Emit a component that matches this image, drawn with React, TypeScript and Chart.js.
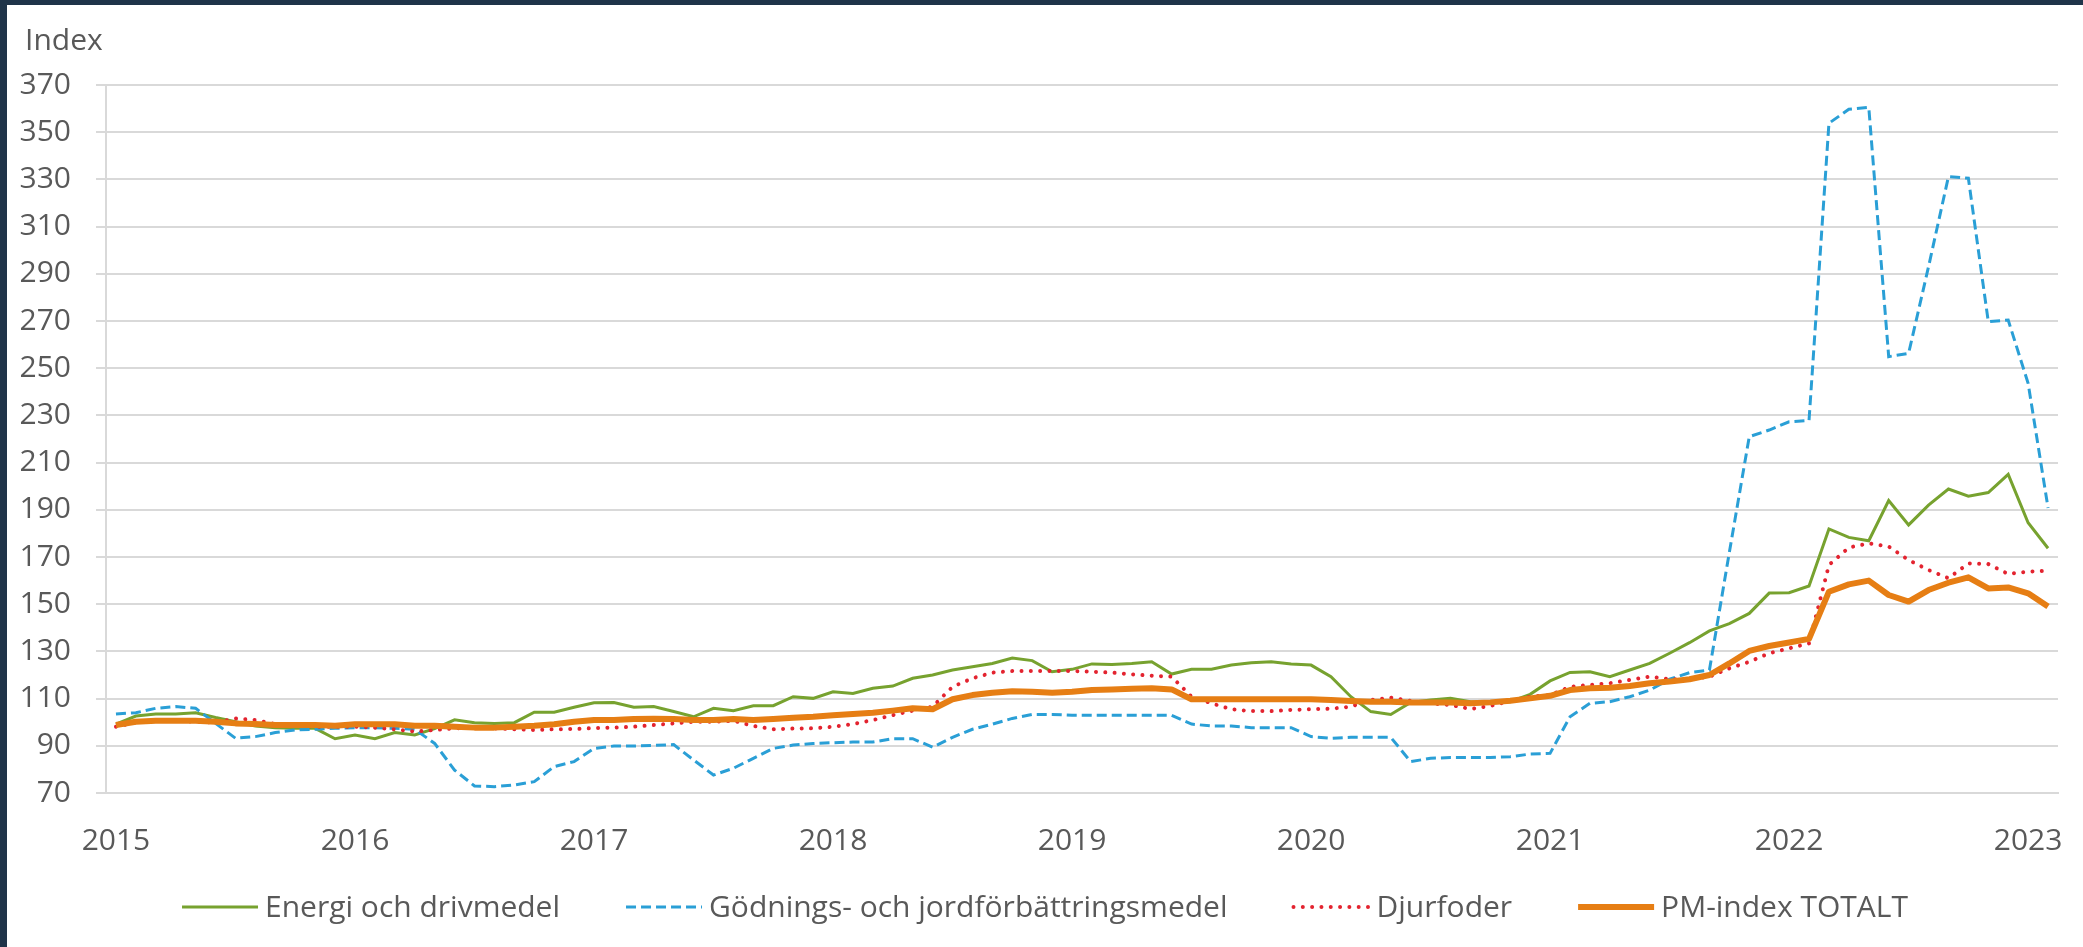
import React, { useEffect, useRef } from "react";
import { Chart, registerables } from "chart.js";

Chart.register(...registerables);

const FONT = "'Open Sans', 'Noto Sans', sans-serif";
const TEXT_COLOR = "#595959";
const GRID_COLOR = "#d9d9d9";

const yearLabels = ["2015", "2016", "2017", "2018", "2019", "2020", "2021", "2022", "2023"];
const startYear = 2015;
const monthCount = 98; // Jan 2015 – Feb 2023

const months: string[] = [];
for (let i = 0; i < monthCount; i++) {
  const y = startYear + Math.floor(i / 12);
  const m = (i % 12) + 1;
  months.push(`${y}-${String(m).padStart(2, "0")}`);
}

const energi = [
  99.2, 102.6, 103.5, 103.5, 104, 102, 100.2, 98.4, 97.7, 97.4, 97.4, 93,
  94.6, 93, 95.6, 94.6, 97.3, 101, 99.8, 99.5, 99.8, 104.2, 104.2, 106.3,
  108.2, 108.3, 106.3, 106.6, 104.5, 102.3, 105.9, 104.9, 107, 107, 110.8, 110.1,
  112.9, 112.2, 114.4, 115.3, 118.6, 120, 122.1, 123.5, 124.9, 127.2, 126.1, 121.4,
  122.4, 124.7, 124.5, 124.9, 125.6, 120.4, 122.4, 122.4, 124.2, 125.2, 125.6, 124.7,
  124.2, 119.3, 110.8, 104.5, 103.3, 108.4, 109.4, 110.1, 108.7, 108.4, 108.7, 111.8,
  117.5, 121.1, 121.4, 119.3, 122.1, 124.9, 129.2, 133.7, 138.7, 141.8, 146.1, 154.7,
  154.9, 157.7, 181.9, 178.3, 176.9, 193.9, 183.6, 192, 198.8, 195.8, 197.3, 205,
  184.5, 173.7,
];

const godning = [
  103.5, 104, 105.9, 106.6, 105.9, 99.5, 93.2, 93.9, 95.6, 96.7, 97, 97.4,
  97.7, 97.7, 97.4, 97, 91, 79.7, 73, 72.7, 73.4, 74.8, 81.2, 83.3,
  88.9, 89.9, 89.9, 90.2, 90.5, 84, 77.6, 80.5, 84.7, 88.9, 90.3, 91,
  91.3, 91.6, 91.6, 93, 93, 89.4, 93.6, 97, 99.2, 101.6, 103.3, 103.3,
  102.9, 102.9, 102.9, 102.9, 102.9, 102.9, 99.2, 98.4, 98.4, 97.7, 97.7, 97.7,
  93.9, 93.2, 93.6, 93.6, 93.6, 83.3, 84.7, 85, 85, 85, 85.4, 86.5,
  86.8, 102.3, 108, 108.7, 110.8, 113.6, 118.2, 121, 122.1, 172, 221, 223.8,
  227.3, 227.8, 353.8, 359.7, 360.5, 254.9, 256.3, 293, 331.2, 330.5, 269.7, 270.4,
  243.6, 190.8,
];

const djurfoder = [
  98.1, 99.8, 100.6, 100.6, 100.2, 99.8, 101.6, 100.9, 99.2, 98.8, 98.1, 98.1,
  98.1, 97.7, 97, 96, 96.7, 97.4, 97.7, 97.4, 97, 96.7, 97, 97.1,
  97.5, 97.7, 98.1, 98.8, 99.5, 100.2, 100.2, 100.6, 98.4, 97, 97.3, 97.4,
  98.1, 99.2, 100.9, 103, 104.9, 106.6, 115, 118.6, 121, 121.7, 121.7, 121.7,
  121.7, 121.4, 121, 120.3, 119.7, 119.3, 110.8, 108, 105.5, 104.7, 104.7, 105.2,
  105.5, 105.7, 106.6, 109.4, 110.4, 109, 108, 107.3, 105.6, 106.9, 109, 110.8,
  111.5, 115, 115.8, 116.5, 117.9, 119.3, 118.2, 118.2, 119.3, 122.8, 125.6, 129.2,
  131.3, 133.4, 166.6, 174, 175.8, 174.4, 168.7, 164.5, 161, 167.3, 167, 162.8,
  163.8, 164.2,
];

const pmTotal = [
  98.8, 100.2, 100.6, 100.6, 100.6, 100.2, 99.5, 99.2, 98.8, 98.8, 98.8, 98.5,
  99.1, 99.1, 99.1, 98.5, 98.5, 98.1, 97.7, 97.7, 98.1, 98.5, 99.1, 100.2,
  100.9, 100.9, 101.4, 101.5, 101.4, 100.9, 100.9, 101.4, 100.9, 101.4, 101.9, 102.3,
  102.9, 103.5, 104, 104.9, 105.9, 105.5, 109.7, 111.5, 112.5, 113.1, 112.9, 112.5,
  112.9, 113.6, 113.9, 114.2, 114.4, 113.9, 109.7, 109.7, 109.7, 109.7, 109.7, 109.7,
  109.7, 109.4, 109, 108.7, 108.7, 108.3, 108.3, 108.3, 108, 108.4, 109.1, 110.1,
  111.2, 113.6, 114.4, 114.6, 115.3, 116.5, 117.2, 118.2, 120, 124.9, 130.2, 132.3,
  133.8, 135.3, 155.3, 158.4, 160, 153.9, 151.1, 156, 159.1, 161.4, 156.7, 157.1,
  154.6, 149,
];

const seriesNames = [
  "Energi och drivmedel",
  "Gödnings- och jordförbättringsmedel",
  "Djurfoder",
  "PM-index TOTALT",
];

const yMin = 70;
const yMax = 370;
const yStep = 20;
const axisTitle = "Index";

const CANVAS_W = 2076;
const CANVAS_H = 942;

const titlePlugin = {
  id: "indexTitle",
  afterDraw(chart: any) {
    const ctx = chart.ctx;
    ctx.save();
    ctx.font = `30px ${FONT}`;
    ctx.fillStyle = TEXT_COLOR;
    ctx.textAlign = "left";
    ctx.textBaseline = "alphabetic";
    ctx.fillText(axisTitle, 18, 45);
    ctx.restore();
  },
};

const legendPlugin = {
  id: "lineLegend",
  afterDraw(chart: any) {
    const ctx = chart.ctx;
    const lineLen = 76;
    const textGap = 7;
    const itemGap = 66;
    const y = 902;
    ctx.save();
    ctx.font = `30px ${FONT}`;
    const items = chart.data.datasets.map((ds: any) => ({
      ds,
      w: ctx.measureText(ds.label).width,
    }));
    const total =
      items.reduce((s: number, it: any) => s + lineLen + textGap + it.w, 0) +
      itemGap * (items.length - 1);
    let x = chart.width / 2 - total / 2;
    items.forEach((it: any) => {
      const ds = it.ds;
      ctx.save();
      ctx.strokeStyle = ds.borderColor;
      ctx.lineWidth = ds.borderWidth;
      ctx.lineCap = ds.borderCapStyle || "butt";
      ctx.setLineDash(ds.borderDash || []);
      ctx.beginPath();
      ctx.moveTo(x, y);
      ctx.lineTo(x + lineLen, y);
      ctx.stroke();
      ctx.restore();
      ctx.fillStyle = TEXT_COLOR;
      ctx.textAlign = "left";
      ctx.textBaseline = "middle";
      ctx.fillText(ds.label, x + lineLen + textGap, y + 1);
      x += lineLen + textGap + it.w + itemGap;
    });
    ctx.restore();
  },
};

export default function App() {
  const ref = useRef<HTMLCanvasElement | null>(null);

  useEffect(() => {
    if (!ref.current) return;
    const chart = new Chart(ref.current, {
      type: "line",
      data: {
        labels: months,
        datasets: [
          {
            label: seriesNames[0],
            data: energi,
            borderColor: "#77a22f",
            borderWidth: 3,
            pointRadius: 0,
            tension: 0,
            order: 4,
          },
          {
            label: seriesNames[1],
            data: godning,
            borderColor: "#2a9fd6",
            borderWidth: 3,
            borderDash: [10, 5],
            pointRadius: 0,
            tension: 0,
            order: 3,
          },
          {
            label: seriesNames[2],
            data: djurfoder,
            borderColor: "#e3232f",
            borderWidth: 4,
            borderDash: [0.01, 9.3],
            borderCapStyle: "round",
            pointRadius: 0,
            tension: 0,
            order: 2,
          },
          {
            label: seriesNames[3],
            data: pmTotal,
            borderColor: "#e67e14",
            borderWidth: 6,
            borderJoinStyle: "round",
            pointRadius: 0,
            tension: 0,
            order: 1,
          },
        ] as any,
      },
      options: {
        animation: false,
        responsive: false,
        events: [],
        layout: {
          padding: { top: 80, right: 25, bottom: CANVAS_H - 788 - 66, left: 0 },
        },
        plugins: {
          legend: { display: false },
          tooltip: { enabled: false },
          title: { display: false },
        },
        scales: {
          x: {
            type: "category",
            offset: true,
            grid: { display: false, drawTicks: false },
            border: { display: true, color: GRID_COLOR, width: 2 },
            ticks: {
              autoSkip: false,
              maxRotation: 0,
              minRotation: 0,
              padding: 30,
              color: TEXT_COLOR,
              font: { family: FONT, size: 30 },
              callback: (_v: any, index: number) =>
                index % 12 === 0 ? yearLabels[index / 12] : null,
            },
            afterFit: (scale: any) => {
              scale.height = 66;
              scale.paddingLeft = 0;
              scale.paddingRight = 0;
            },
          },
          y: {
            type: "linear",
            min: yMin,
            max: yMax,
            grid: {
              color: GRID_COLOR,
              lineWidth: 2,
              drawTicks: true,
              tickLength: 10,
            },
            border: { display: true, color: GRID_COLOR, width: 2 },
            ticks: {
              stepSize: yStep,
              padding: 25,
              color: TEXT_COLOR,
              font: { family: FONT, size: 30 },
            },
            afterFit: (scale: any) => {
              scale.width = 99;
              scale.paddingTop = 0;
              scale.paddingBottom = 0;
            },
          },
        },
      } as any,
      plugins: [titlePlugin, legendPlugin],
    });
    return () => chart.destroy();
  }, []);

  return (
    <div
      style={{
        position: "fixed",
        left: 0,
        top: 0,
        width: 2083,
        height: 947,
        background: "#1f3449",
        overflow: "hidden",
      }}
    >
      <div
        style={{
          position: "absolute",
          left: 7,
          top: 5,
          width: CANVAS_W,
          height: CANVAS_H,
          background: "#ffffff",
        }}
      >
        <canvas
          ref={ref}
          width={CANVAS_W}
          height={CANVAS_H}
          style={{ display: "block", width: CANVAS_W, height: CANVAS_H }}
        />
      </div>
    </div>
  );
}
